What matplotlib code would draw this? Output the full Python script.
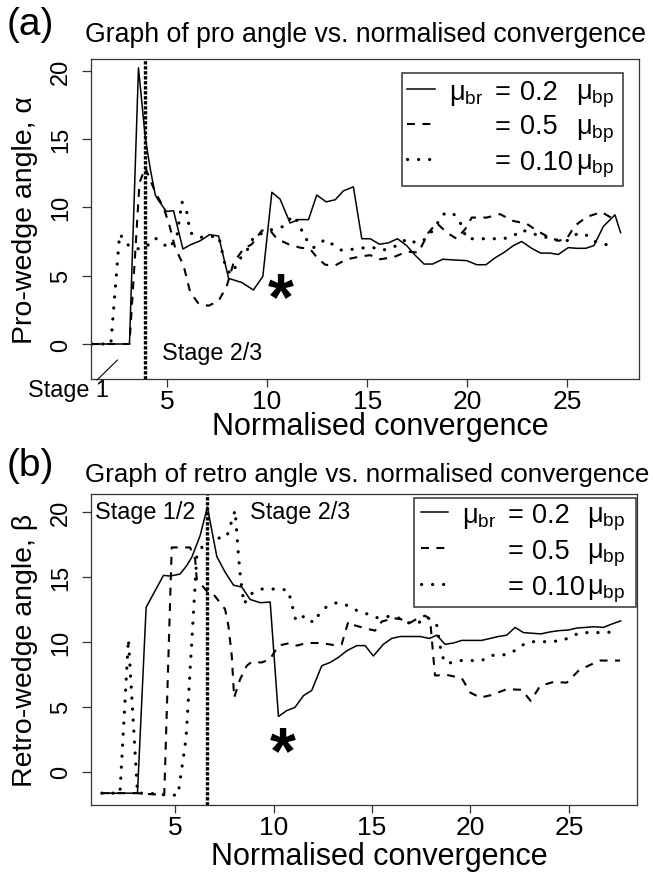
import matplotlib
matplotlib.use("Agg")
import matplotlib.pyplot as plt
from matplotlib.transforms import Affine2D
from matplotlib.patches import Rectangle
from matplotlib.lines import Line2D

plt.rcParams['font.family'] = ['Liberation Sans', 'DejaVu Sans']
plt.rcParams['mathtext.fontset'] = 'custom'
plt.rcParams['mathtext.rm'] = 'Liberation Sans'
plt.rcParams['mathtext.it'] = 'Liberation Sans:italic'
plt.rcParams['mathtext.bf'] = 'Liberation Sans:bold'

# ---------------- data: panel (a) pro-wedge angle ----------------
pro_x_02 = [1.25, 3.13, 3.58, 3.92, 4.17, 4.42, 4.58, 4.97, 5.33, 5.80, 6.16, 6.66, 7.13, 7.58,
            8.08, 8.74, 9.32, 9.79, 10.24, 10.65, 11.15, 11.57, 12.07, 12.48, 12.95, 13.40,
            13.81, 14.31, 14.73, 15.15, 15.61, 16.06, 16.51, 16.97, 17.39, 17.84, 18.27, 18.77,
            19.30, 19.97, 20.47, 20.93, 21.38, 21.83, 22.30, 22.71, 23.21, 23.66, 24.13, 24.54,
            25.04, 25.46, 25.91, 26.32, 26.79, 27.37, 27.65]
pro_y_02 = [0, 0, 20.2, 15.1, 12.8, 10.9, 10.5, 9.7, 9.75, 6.95, 7.25, 7.55, 8.0, 7.9,
            4.8, 4.5, 3.95, 4.95, 11.1, 10.6, 8.85, 9.1, 9.1, 10.9, 10.4, 10.55,
            11.2, 11.5, 7.7, 7.7, 7.3, 7.4, 7.7, 7.2, 6.5, 5.85, 5.85, 6.2,
            6.15, 6.1, 5.8, 5.8, 6.3, 6.7, 7.2, 7.5, 7.0, 6.65, 6.65, 6.55,
            7.05, 7.0, 7.0, 7.2, 8.6, 9.45, 8.15]

pro_x_05 = [1.25, 3.13, 3.42, 3.63, 3.92, 4.42, 4.83, 5.13, 5.41, 5.83, 6.16, 6.58, 7.08, 7.58,
            7.99, 8.33, 8.82, 9.24, 9.74, 10.16, 10.49, 11.07, 11.65, 12.15, 12.48, 12.90,
            13.40, 13.98, 14.65, 15.15, 15.64, 16.31, 16.97, 17.56, 18.06, 18.47, 18.97, 19.47,
            19.89, 20.22, 20.97, 21.63, 22.30, 22.96, 23.46, 23.96, 24.54, 24.96, 25.37, 25.96,
            26.70, 27.29]
pro_y_05 = [0, 0, 6.7, 11.8, 12.9, 11.1, 10.0, 8.65, 7.05, 5.75, 3.8, 2.95, 2.8, 3.15,
            4.25, 5.95, 6.95, 7.3, 8.3, 8.3, 7.7, 7.3, 7.05, 6.95, 6.35, 5.8,
            5.75, 6.2, 6.4, 6.5, 6.2, 6.35, 6.75, 6.7, 8.15, 8.85, 8.15, 7.7,
            8.4, 9.25, 9.25, 9.5, 9.0, 8.8, 8.3, 7.9, 7.55, 7.7, 8.65, 9.3,
            9.65, 9.15]

pro_x_010 = [1.25, 2.20, 2.64, 3.09, 3.47, 3.92, 4.42, 4.83, 5.13, 5.50, 5.75, 6.00, 6.16, 6.58,
             7.16, 7.58, 7.95, 8.20, 8.49, 8.74, 9.07, 9.32, 9.74, 10.07, 10.82, 11.29, 11.62,
             11.82, 12.32, 12.90, 13.31, 13.73, 14.40, 14.90, 15.31, 15.73, 16.14, 16.64, 16.97,
             17.44, 17.97, 18.40, 18.80, 19.27, 19.64, 19.97, 20.72, 21.22, 21.80, 22.30, 22.71,
             23.13, 23.63, 24.13, 24.71, 25.10, 25.46, 25.87, 26.29, 26.79, 27.37]
pro_y_010 = [0, 0, 8.05, 7.2, 6.95, 7.05, 7.75, 7.3, 7.0, 7.9, 10.4, 9.6, 8.15, 7.8,
             7.85, 7.9, 5.5, 5.1, 5.8, 6.45, 7.0, 7.8, 8.1, 8.3, 8.6, 9.4, 8.8,
             7.9, 7.05, 7.65, 7.25, 6.85, 6.95, 7.05, 7.05, 6.85, 7.0, 7.3, 7.7,
             7.4, 7.7, 8.6, 9.5, 9.6, 8.9, 7.7, 7.7, 7.7, 7.7, 7.9, 8.35,
             8.15, 7.9, 7.75, 7.5, 7.6, 8.05, 8.05, 7.55, 7.3, 7.2]

# ---------------- data: panel (b) retro-wedge angle ----------------
retro_x_02 = [1.28, 3.09, 3.53, 4.41, 4.75, 5.25, 5.59, 5.85, 6.27, 6.64, 7.12, 7.54, 7.97, 8.39,
              8.81, 9.32, 9.83, 10.25, 10.67, 11.09, 11.52, 11.94, 12.45, 12.87, 13.30, 13.72,
              14.23, 14.65, 15.07, 15.58, 16.00, 16.43, 16.93, 17.44, 17.92, 18.29, 18.71, 19.14,
              19.56, 20.07, 20.57, 21.00, 21.42, 21.84, 22.27, 22.69, 23.14, 23.57, 24.04, 24.50,
              24.98, 25.40, 25.85, 26.28, 26.75, 27.17, 27.63]
retro_y_02 = [-1.65, -1.65, 12.65, 15.1, 15.05, 15.2, 15.85, 16.5, 18.15, 20.35, 16.55, 15.35, 14.35, 14.2,
              13.25, 13.0, 13.05, 4.25, 4.7, 4.95, 5.85, 6.25, 8.15, 8.4, 8.8, 9.3,
              9.7, 9.7, 8.9, 9.8, 10.25, 10.4, 10.4, 10.4, 10.25, 10.5, 9.8, 9.9,
              10.1, 10.1, 10.1, 10.25, 10.4, 10.5, 11.1, 10.7, 10.65, 10.6, 10.75, 10.85,
              10.9, 11.05, 11.1, 11.15, 11.1, 11.35, 11.6]

retro_x_05 = [1.28, 3.09, 3.50, 4.07, 4.45, 4.83, 5.34, 5.76, 6.02, 6.10, 6.61, 6.95, 7.54, 7.71,
              7.88, 8.00, 8.30, 8.64, 8.89, 9.40, 9.82, 10.25, 10.84, 11.18, 11.69, 12.36,
              13.04, 13.46, 13.80, 14.14, 14.73, 15.16, 15.50, 16.09, 16.43, 16.93, 17.27, 17.69,
              17.95, 18.20, 18.79, 19.56, 19.98, 20.49, 21.08, 21.84, 22.60, 23.06, 23.54, 24.21,
              24.89, 25.48, 25.99, 26.58, 27.60]
retro_y_05 = [-1.65, -1.65, -1.7, -1.75, -1.8, 17.25, 17.25, 17.25, 16.35, 14.8, 13.9, 13.65, 12.5, 11.2,
              8.9, 5.7, 7.1, 8.15, 8.45, 8.4, 8.65, 9.7, 9.9, 9.7, 9.9, 9.9,
              9.75, 9.8, 11.55, 11.25, 11.0, 10.85, 11.55, 11.8, 11.75, 11.45, 11.75, 12.0,
              11.75, 7.4, 7.45, 7.2, 6.1, 5.7, 5.9, 6.35, 6.3, 5.45, 6.6, 6.9,
              6.85, 7.75, 8.15, 8.55, 8.55]

retro_x_010 = [1.28, 2.20, 2.63, 3.09, 3.47, 4.07, 4.61, 5.15, 5.56, 6.10, 6.57, 7.12, 7.62, 8.05,
               8.22, 8.33, 8.50, 8.81, 9.40, 9.87, 10.33, 10.75, 11.14, 11.60, 12.03, 12.33,
               12.70, 13.21, 13.72, 14.23, 14.73, 15.24, 15.75, 16.43, 16.85, 17.36, 17.80, 18.29,
               18.54, 18.79, 19.39, 19.98, 20.57, 21.08, 21.59, 22.10, 22.52, 23.03, 23.54, 24.04,
               24.72, 25.14, 25.65, 26.20, 26.75, 27.26]
retro_y_010 = [-1.65, -1.65, 10.2, -1.65, -1.65, -1.7, -1.8, -1.8, 2.6, 16.5, 17.85, 17.95, 18.05, 20.1,
               16.6, 14.8, 12.9, 13.65, 14.05, 14.05, 14.05, 13.95, 11.6, 12.0, 11.45, 12.15,
               12.7, 13.0, 12.8, 12.4, 12.15, 11.85, 11.95, 11.8, 11.45, 11.45, 11.9, 11.25,
               8.95, 8.3, 8.55, 8.55, 8.55, 8.95, 8.95, 9.15, 9.65, 10.0, 10.0, 10.0,
               10.1, 10.45, 10.7, 10.7, 10.7, 10.75]

stage_line_a = 3.9      # stage 2/3 transition, panel (a)
stage_line_b = 6.63     # stage 1/2 -> 2/3 transition, panel (b)

x_ticks = [5, 10, 15, 20, 25]
y_ticks = [0, 5, 10, 15, 20]

titles = ["Graph of pro angle vs. normalised convergence",
          "Graph of retro angle vs. normalised convergence"]
panel_tags = ["(a)", "(b)"]
y_labels = ["Pro-wedge angle, \u03b1", "Retro-wedge angle, \u03b2"]
x_label = "Normalised convergence"
legend_values = ["0.2", "0.5", "0.10"]
legend_head = "$\\mathrm{\u03bc}_{\\mathrm{br}}$"
legend_unit = "$\\mathrm{\u03bc}_{\\mathrm{bp}}$"

# ---------------- styles ----------------
SOLID = dict(color='black', lw=1.1, linestyle='-')
DASH = dict(color='black', lw=1.5, linestyle=(0, (3.8, 3.6)))
DOT = dict(color='black', lw=2.3, linestyle=(0, (0.05, 3.4)), dash_capstyle='round')
VLINE = dict(color='black', lw=2.4, linestyle=(0, (1.0, 0.5)))
SPINE = '#333333'

W, H = 653, 878
fig = plt.figure(figsize=(W / 100, H / 100), dpi=100)
PX = Affine2D().scale(1 / W, -1 / H).translate(0, 1) + fig.transFigure

ax1 = fig.add_axes([91 / W, (H - 380) / H, (639 - 91) / W, (380 - 60) / H])
ax2 = fig.add_axes([91 / W, (H - 806) / H, (637 - 91) / W, (806 - 495) / H])

ax1.plot(pro_x_02, pro_y_02, **SOLID)
ax1.plot(pro_x_05, pro_y_05, **DASH)
ax1.plot(pro_x_010, pro_y_010, **DOT)
ax1.axvline(stage_line_a, **VLINE)
ax1.set_xlim(1.21, 28.57)
ax1.set_ylim(-2.56, 20.85)

ax2.plot(retro_x_02, retro_y_02, **SOLID)
ax2.plot(retro_x_05, retro_y_05, **DASH)
ax2.plot(retro_x_010, retro_y_010, **DOT)
ax2.axvline(stage_line_b, **VLINE)
ax2.set_xlim(0.73, 28.46)
ax2.set_ylim(-2.56, 21.36)

for ax, ylab, xl_y in [(ax1, y_labels[0], -0.147), (ax2, y_labels[1], -0.164)]:
    ax.set_xticks(x_ticks)
    ax.set_yticks(y_ticks)
    ax.tick_params(axis='both', direction='out', width=0.9, color=SPINE)
    ax.tick_params(axis='x', length=5.5, labelsize=19, pad=2.0)
    ax.tick_params(axis='y', length=6.8, labelsize=17, pad=7)
    for lab in ax.get_yticklabels():
        lab.set_rotation(90)
        lab.set_va('center')
    for sp in ax.spines.values():
        sp.set_color(SPINE)
        sp.set_linewidth(0.9)
    ax.set_xlabel(x_label, fontsize=22, va='center')
    ax.xaxis.set_label_coords((380 - 91) / 548, xl_y)
    ax.set_ylabel(ylab, fontsize=20.5, va='center')
    ax.yaxis.set_label_coords(-0.1204, 0.5)

# titles and panel tags
fig.text(85.4, 41.7, titles[0], transform=PX, fontsize=19.2, ha='left', va='baseline')
fig.text(85.4, 481.7, titles[1], transform=PX, fontsize=18.7, ha='left', va='baseline')
fig.text(7, 25, panel_tags[0], transform=PX, fontsize=28, ha='left', va='center')
fig.text(7, 466, panel_tags[1], transform=PX, fontsize=28, ha='left', va='center')

# stage annotations
fig.text(161.7, 353.3, "Stage 2/3", transform=PX, fontsize=16.8, ha='left', va='center')
fig.text(68, 391, "Stage 1", transform=PX, fontsize=16.8, ha='center', va='center')
fig.add_artist(Line2D([97, 117.5], [381, 361], transform=PX, color='black', lw=0.8))
fig.text(95, 513, "Stage 1/2", transform=PX, fontsize=16.8, ha='left', va='center')
fig.text(250, 513, "Stage 2/3", transform=PX, fontsize=16.8, ha='left', va='center')

# asterisks
AST = 48
for cx, cy in [(281, 280), (282.5, 734)]:
    fig.text(cx, cy + 0.58 * AST * 100 / 72, "*", transform=PX, fontsize=AST,
             fontweight='bold', ha='center', va='baseline')

# legends (drawn in reference pixel coordinates)
def draw_legend(box, line_x, line_ys, head_x, eq_x, num_x, unit_x, baselines):
    x0, y0, x1, y1 = box
    fig.add_artist(Rectangle((x0, y0), x1 - x0, y1 - y0, transform=PX, fill=False,
                             edgecolor='#333333', lw=1.1))
    for sty, ly in zip([SOLID, DASH, DOT], line_ys):
        fig.add_artist(Line2D(line_x, [ly, ly], transform=PX, **sty))
    fig.text(head_x, baselines[0], legend_head, transform=PX, fontsize=19.5,
             ha='left', va='baseline')
    for val, by in zip(legend_values, baselines):
        fig.text(eq_x, by, "=", transform=PX, fontsize=19.5, ha='left', va='baseline')
        fig.text(num_x, by, val, transform=PX, fontsize=19.5, ha='left', va='baseline')
        fig.text(unit_x, by, legend_unit, transform=PX, fontsize=19.5, ha='left',
                 va='baseline')

draw_legend((401.7, 74.3, 623.3, 186.7), [407, 435], [90, 125, 160], 449, 495, 520, 576.5,
            [100, 134.5, 169.5])
draw_legend((414.3, 499, 636, 608.3), [420.7, 448.3], [513.3, 549, 585], 462.3, 507.3, 531.7,
            587.3, [522.7, 559, 595])

fig.savefig("out.png", dpi=100)
